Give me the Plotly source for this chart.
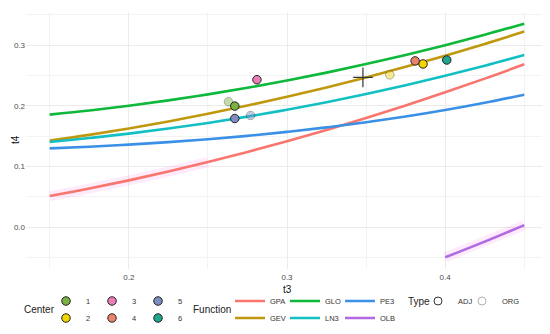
import plotly.graph_objects as go

# ---------------- data ----------------
t3_grid = [0.15, 0.175, 0.2, 0.225, 0.25, 0.275, 0.3, 0.325, 0.35, 0.375, 0.4, 0.425, 0.45]
t4_gpa = [0.0510, 0.0634, 0.0769, 0.0915, 0.1071, 0.1238, 0.1415, 0.1602, 0.1799, 0.2006, 0.2222, 0.2448, 0.2684]
t4_gev = [0.1425, 0.1520, 0.1626, 0.1742, 0.1867, 0.2003, 0.2148, 0.2303, 0.2468, 0.2643, 0.2827, 0.3021, 0.3224]
t4_glo = [0.1854, 0.1922, 0.2000, 0.2089, 0.2188, 0.2297, 0.2417, 0.2547, 0.2688, 0.2839, 0.3000, 0.3172, 0.3354]
t4_ln3 = [0.1403, 0.1467, 0.1540, 0.1624, 0.1717, 0.1821, 0.1935, 0.2059, 0.2194, 0.2339, 0.2495, 0.2662, 0.2839]
t4_pe3 = [0.1297, 0.1325, 0.1359, 0.1400, 0.1448, 0.1504, 0.1569, 0.1643, 0.1727, 0.1822, 0.1929, 0.2049, 0.2182]
t3_olb = [0.400, 0.425, 0.450]
t4_olb = [-0.0500, -0.0242, 0.0031]

centers = ["1", "2", "3", "4", "5", "6"]
adj_t3 = [0.267, 0.386, 0.281, 0.381, 0.267, 0.401]
adj_t4 = [0.1995, 0.269, 0.243, 0.274, 0.179, 0.2755]
org_centers = ["1", "2", "5"]
org_t3 = [0.263, 0.365, 0.277]
org_t4 = [0.2066, 0.251, 0.184]
regional_t3 = [0.348]
regional_t4 = [0.2468]

x_ticks = [0.2, 0.3, 0.4]
y_ticks = [0.0, 0.1, 0.2, 0.3]

# ---------------- styles ----------------
W, H = 550, 334
OFF = 8  # page body margin of the browser
ML, MT = 26 - OFF, 12 - OFF
PW, PH = 522, 257
MR, MB = W - ML - PW, H - MT - PH
FONT = "Liberation Sans, Arial, Helvetica, sans-serif"

func_color = {"GPA": "#F8766D", "GEV": "#C0980E", "GLO": "#0DB83A",
              "LN3": "#12C0C4", "PE3": "#3A90E6", "OLB": "#B26AE2"}
center_color = {"1": "#79B23E", "2": "#F2D400", "3": "#E87DB8",
                "4": "#EC826A", "5": "#7D8DC2", "6": "#1FA68E"}


def cx(px):
    return (px - OFF) / W


def cy(py):
    return 1 - (py - OFF) / H


def px_x(px):
    return (px - OFF - ML) / PW


def px_y(py):
    return (MT + PH - (py - OFF)) / PH


fig = go.Figure()

# faint highlight bands
fig.add_trace(go.Scatter(x=t3_grid[:5], y=t4_gpa[:5], mode="lines",
                         line=dict(color="rgba(245,100,227,0.13)", width=10, shape="spline"),
                         showlegend=False, hoverinfo="skip"))
fig.add_trace(go.Scatter(x=t3_olb, y=t4_olb, mode="lines",
                         line=dict(color="rgba(245,100,227,0.13)", width=10),
                         showlegend=False, hoverinfo="skip"))

# theoretical curves
curves = [("GPA", t3_grid, t4_gpa, "legend3"),
          ("GEV", t3_grid, t4_gev, "legend4"),
          ("GLO", t3_grid, t4_glo, "legend3"),
          ("LN3", t3_grid, t4_ln3, "legend4"),
          ("PE3", t3_grid, t4_pe3, "legend3"),
          ("OLB", t3_olb, t4_olb, "legend4")]
for name, xs, ys, lg in curves:
    fig.add_trace(go.Scatter(x=xs, y=ys, mode="lines", name=name, legend=lg,
                             line=dict(color=func_color[name], width=2.6, shape="spline")))

# ORG points (lighter)
for c, x, y in zip(org_centers, org_t3, org_t4):
    fig.add_trace(go.Scatter(x=[x], y=[y], mode="markers", showlegend=False,
                             marker=dict(size=8.5, color=center_color[c], opacity=0.45,
                                         line=dict(color="#444444", width=1))))

# regional average
fig.add_trace(go.Scatter(x=regional_t3, y=regional_t4, mode="markers", showlegend=False,
                         marker=dict(symbol="cross-thin", size=14,
                                     line=dict(color="#333333", width=1.2))))

# ADJ points (one trace per center, also the Center legend)
row_of = {"1": "legend", "3": "legend", "5": "legend",
          "2": "legend2", "4": "legend2", "6": "legend2"}
order = ["1", "3", "5", "2", "4", "6"]
for c in order:
    i = centers.index(c)
    fig.add_trace(go.Scatter(x=[adj_t3[i]], y=[adj_t4[i]], mode="markers", name=c,
                             legend=row_of[c],
                             marker=dict(size=8.5, color=center_color[c],
                                         line=dict(color="#222222", width=1))))

# Type legend entries
fig.add_trace(go.Scatter(x=[None], y=[None], mode="markers", name="ADJ", legend="legend5",
                         marker=dict(size=8, color="rgba(0,0,0,0)",
                                     line=dict(color="#333333", width=1))))
fig.add_trace(go.Scatter(x=[None], y=[None], mode="markers", name="ORG", legend="legend6",
                         marker=dict(size=8, color="rgba(0,0,0,0)",
                                     line=dict(color="#B0B0B0", width=1))))

leg_font = dict(family=FONT, size=7.5, color="#333333")
title_font = dict(family=FONT, size=10, color="#222222")
axis_title_font = dict(family=FONT, size=10, color="#111111")


def leg(xpx, ypx, ew):
    return dict(orientation="h", xref="container", yref="container",
                x=cx(xpx), y=cy(ypx), xanchor="left", yanchor="middle",
                bgcolor="rgba(0,0,0,0)", font=leg_font,
                entrywidth=ew, entrywidthmode="pixels", traceorder="normal")


def title_ann(text, xpx, ypx, anchor="right", angle=0, font=title_font):
    return dict(text=text, xref="paper", yref="paper", x=px_x(xpx), y=px_y(ypx),
                xanchor=anchor, yanchor="middle", showarrow=False, textangle=angle,
                font=font)


fig.update_layout(
    width=W, height=H,
    margin=dict(l=ML, r=MR, t=MT, b=MB, autoexpand=False),
    paper_bgcolor="white", plot_bgcolor="white",
    font=dict(family=FONT, color="#4D4D4D"),
    xaxis=dict(range=[0.135, 0.465], tickvals=x_ticks, tickformat=".1f",
               showgrid=True, gridcolor="#EBEBEB", gridwidth=1,
               minor=dict(dtick=0.05, tick0=0.0, showgrid=True, gridcolor="#F3F3F3", gridwidth=0.6),
               zeroline=False, showline=False, ticks="", ticklabelstandoff=2,
               tickfont=dict(family=FONT, size=8, color="#4D4D4D")),
    yaxis=dict(range=[-0.0693, 0.3547], tickvals=y_ticks, tickformat=".1f",
               showgrid=True, gridcolor="#EBEBEB", gridwidth=1,
               minor=dict(dtick=0.05, tick0=0.0, showgrid=True, gridcolor="#F3F3F3", gridwidth=0.6),
               zeroline=False, showline=False, ticks="",
               tickfont=dict(family=FONT, size=8, color="#4D4D4D")),
    legend=leg(46, 301, 1),
    legend2=leg(46, 318, 1),
    legend3=leg(230, 301, 10),
    legend4=leg(230, 318, 10),
    legend5=leg(418, 301, 15),
    legend6=leg(462, 301, 18),
    annotations=[
        title_ann("t3", 287, 289, anchor="center", font=axis_title_font),
        title_ann("t4", 15, 140, anchor="center", angle=-90, font=axis_title_font),
        title_ann("Center", 57, 310),
        title_ann("Function", 233, 310),
        title_ann("Type", 432, 301),
    ],
)

fig.write_html("out.html")
